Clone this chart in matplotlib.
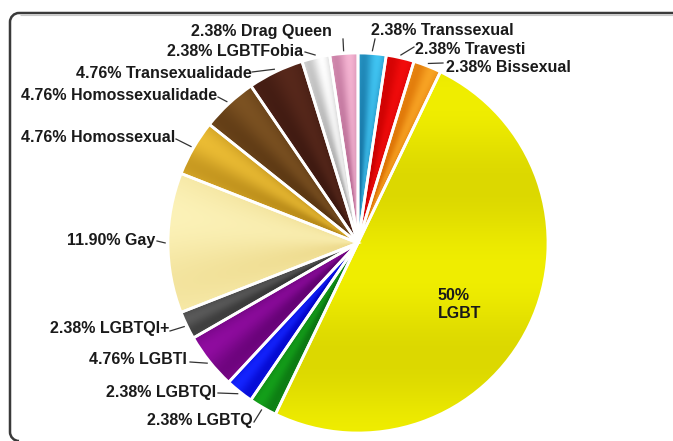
import numpy as np
import matplotlib
matplotlib.use('Agg')
import matplotlib.pyplot as plt
from matplotlib.patches import PathPatch
from matplotlib.path import Path
from matplotlib.transforms import IdentityTransform

# slices, clockwise from the top
labels = ['Transsexual', 'Travesti', 'Bissexual', 'LGBT', 'LGBTQ', 'LGBTQI', 'LGBTI',
          'LGBTQI+', 'Gay', 'Homossexual', 'Homossexualidade', 'Transexualidade',
          'LGBTFobia', 'Drag Queen']
percents = [2.38, 2.38, 2.38, 50, 2.38, 2.38, 4.76, 2.38, 11.90, 4.76, 4.76, 4.76, 2.38, 2.38]
pct_text = ['2.38%', '2.38%', '2.38%', '50%', '2.38%', '2.38%', '4.76%', '2.38%', '11.90%',
            '4.76%', '4.76%', '4.76%', '2.38%', '2.38%']

# light / dark tone of each slice (for the glossy shading)
light = ['#40c4f2', '#f20c0c', '#f8a424', '#f0ee00', '#14a01a', '#1424ff', '#900ca0',
         '#5a5a5a', '#fcf2b8', '#ebbc34', '#7c5222', '#57281b', '#ffffff', '#f5b4d2']
dark = ['#0f6898', '#c40000', '#d86a00', '#dcd800', '#0a6c10', '#0000c0', '#5c006c',
        '#303030', '#eedb8e', '#b48616', '#573411', '#3a170f', '#a4a4a4', '#b46690']

# label layout in pixels: (text x, text y, ha, leader start x, leader start y)
label_pos = {
    'Transsexual': (371, 30, 'left', 375, 39),
    'Travesti': (415, 49, 'left', 414, 47),
    'Bissexual': (446, 68, 'left', 443, 63),
    'LGBTQ': (253, 420, 'right', 254, 422),
    'LGBTQI': (216, 392, 'right', 218, 393),
    'LGBTI': (187, 360, 'right', 190, 362),
    'LGBTQI+': (169, 328, 'right', 170, 331),
    'Gay': (155, 240, 'right', 157, 241),
    'Homossexual': (175, 138, 'right', 176, 139),
    'Homossexualidade': (217, 96, 'right', 218, 97),
    'Transexualidade': (252, 73, 'right', 252, 72),
    'LGBTFobia': (303, 52, 'right', 305, 52),
    'Drag Queen': (332, 31, 'right', 343, 39),
}

W, H = 673, 441
CX, CY, R = 358, 243, 190


def px(x, y):
    return (x - CX) / R, (CY - y) / R


fig = plt.figure(figsize=(W / 100, H / 100), dpi=100)
fig.patch.set_facecolor('white')
ax = fig.add_axes([0, 0, 1, 1])

wedges, _ = ax.pie(percents, startangle=90, counterclock=False, colors=light,
                   wedgeprops=dict(edgecolor='white', linewidth=2))

# glossy fill, clipped to each wedge
n = 500
gx, gy = np.meshgrid(np.linspace(-1, 1, n), np.linspace(1, -1, n))
rr = np.hypot(gx, gy)
th = np.degrees(np.arctan2(gy, gx)) % 360
for i, (w, lc, dc) in enumerate(zip(wedges, light, dark)):
    t1, t2 = w.theta1, w.theta2
    t = np.clip(((th - t1) % 360) / (t2 - t1), 0, 1)
    if percents[i] >= 40:
        # big slice: soft horizontal bands
        g = 0.5 + 0.5 * np.cos(2.2 * np.pi * (gy + 0.15))
    else:
        g = 0.6 * (0.5 + 0.5 * np.cos(2 * np.pi * (t - 0.3))) + 0.4 * rr
    g = np.clip(g, 0, 1)[..., None]
    c1 = np.array(matplotlib.colors.to_rgb(lc))
    c0 = np.array(matplotlib.colors.to_rgb(dc))
    img = c0 + (c1 - c0) * g
    im = ax.imshow(img, extent=[-1, 1, -1, 1], zorder=1.5, interpolation='bilinear')
    im.set_clip_path(w)
    w.set_facecolor('none')
    w.set_zorder(3)

# outside labels with leader lines
for i, name in enumerate(labels):
    if name not in label_pos:
        continue
    tx, ty, ha, lx, ly = label_pos[name]
    w = wedges[i]
    mid = np.radians((w.theta1 + w.theta2) / 2)
    ex, ey = 1.015 * np.cos(mid), 1.015 * np.sin(mid)
    sx, sy = px(lx, ly)
    ax.plot([sx, ex], [sy, ey], color='#333333', lw=0.9, zorder=4)
    x, y = px(tx, ty)
    ax.text(x, y, f'{pct_text[i]} {name}', ha=ha, va='center', fontsize=11.5,
            fontweight='bold', family='Liberation Sans', color='#1a1a1a', zorder=5)

# inside label of the big slice
x, y = px(438, 305)
ax.text(x, y, f'{pct_text[3]}\n{labels[3]}', ha='left', va='center', fontsize=11.5,
        fontweight='bold', family='Liberation Sans', color='#1a1a1a',
        linespacing=1.25, zorder=5)

ax.set_xlim(-CX / R, (W - CX) / R)
ax.set_ylim((CY - H) / R, CY / R)
ax.set_aspect('equal')
ax.axis('off')

# frame: top and left edges with rounded corners, open to the right
k = 0.55
verts = [(W + 5, 428), (19, 428), (19 - 9 * k, 428), (10, 419 + 9 * k), (10, 419),
         (10, 9), (10, 9 - 9 * k), (19 - 9 * k, 0), (19, 0)]
codes = [Path.MOVETO, Path.LINETO, Path.CURVE4, Path.CURVE4, Path.CURVE4,
         Path.LINETO, Path.CURVE4, Path.CURVE4, Path.CURVE4]
fig.add_artist(PathPatch(Path(verts, codes), transform=IdentityTransform(),
                         facecolor='none', edgecolor='#3a3a3a', linewidth=1.8))
fig.add_artist(PathPatch(Path([(20, 426), (W + 5, 426)]), transform=IdentityTransform(),
                         facecolor='none', edgecolor='#c8c8c8', linewidth=0.8))

fig.savefig('out.png', dpi=100)
plt.close(fig)
